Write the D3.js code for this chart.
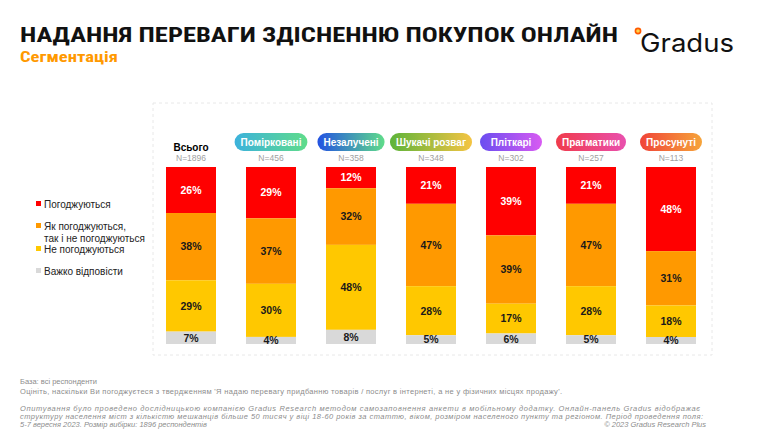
<!DOCTYPE html>
<html>
<head>
<meta charset="utf-8">
<script src="https://cdn.jsdelivr.net/npm/d3@7"></script>
<style>
  body { margin: 0; background: #fff; }
  svg { display: block; font-family: "Liberation Sans", Arial, sans-serif; }
</style>
</head>
<body>
<svg id="chart" width="764" height="429"></svg>
<script>
var GROUPS = ["Всього", "Помірковані", "Незалучені", "Шукачі розваг", "Пліткарі", "Прагматики", "Просунуті"];
var SIZES = [1896, 456, 358, 348, 302, 257, 113];
var AGREE = [26, 29, 12, 21, 39, 21, 48];
var NEUTRAL = [38, 37, 32, 47, 39, 47, 31];
var DISAGREE = [29, 30, 48, 28, 17, 28, 18];
var HARD = [7, 4, 8, 5, 6, 5, 4];

var SERIES = ["Погоджуються", "Як погоджуються,\nтак і не погоджуються", "Не погоджуються", "Важко відповісти"];
var COLORS = ["#ff0000", "#ff9900", "#ffc800", "#d9d9d9"];
var LABEL_COLORS = ["#ffffff", "#1a1a1a", "#1a1a1a", "#1a1a1a"];
// pill gradients per group (first one has no pill)
var PILLS = [null, ["#3cb2dc", "#5fdc8a"], ["#2352e2", "#5fdc8a"], ["#5db43a", "#f5c443"],
    ["#6a4df0", "#d85bf2"], ["#f03b4b", "#e950ae"], ["#f04438", "#f6a43a"]];

var svg = d3.select("#chart");
var defs = svg.append("defs");

var rows = GROUPS.map(function(g, i) {
    return { group: g, n: SIZES[i], 0: AGREE[i], 1: NEUTRAL[i], 2: DISAGREE[i], 3: HARD[i] };
});

var stack = d3.stack().keys([0, 1, 2, 3]).offset(d3.stackOffsetExpand);
var layers = stack(rows);

var x = d3.scaleBand().domain(GROUPS).range([151, 711]).paddingInner(0.375).paddingOuter(0.1875);
var y = d3.scaleLinear().domain([0, 1]).range([167, 344]);

// title
svg.append("text").attr("x", 20).attr("y", 42)
    .attr("font-family", "'Liberation Sans Narrow', 'Roboto Condensed', 'Liberation Sans', Arial")
    .attr("font-weight", "bold").attr("font-size", 21).attr("fill", "#111")
    .attr("textLength", 598).attr("lengthAdjust", "spacingAndGlyphs")
    .text("НАДАННЯ ПЕРЕВАГИ ЗДІСНЕННЮ ПОКУПОК ОНЛАЙН");
svg.append("text").attr("x", 20).attr("y", 62)
    .attr("font-family", "'Liberation Sans Narrow', 'Roboto Condensed', 'Liberation Sans', Arial")
    .attr("font-weight", "bold").attr("font-size", 15).attr("fill", "#ff9900")
    .attr("textLength", 98).attr("lengthAdjust", "spacingAndGlyphs")
    .text("Сегментація");

// logo
svg.append("circle").attr("cx", 638).attr("cy", 31).attr("r", 2.6)
    .attr("fill", "#ffd24a").attr("stroke", "#ff5a00").attr("stroke-width", 1.6);
svg.append("text").attr("x", 640).attr("y", 52)
    .attr("font-family", "Inter, 'Noto Sans', sans-serif").attr("font-size", 25).attr("fill", "#111")
    .attr("textLength", 94).attr("lengthAdjust", "spacingAndGlyphs")
    .text("Gradus");

// dashed frame
svg.append("rect").attr("x", 153).attr("y", 103).attr("width", 559).attr("height", 252)
    .attr("fill", "none").attr("stroke", "#e8e8e8").attr("stroke-dasharray", "3,3");

// bars
var layer = svg.selectAll("g.layer").data(layers).enter().append("g").attr("class", "layer");
layer.selectAll("rect").data(function(d) { return d; }).enter().append("rect")
    .attr("x", function(d) { return x(d.data.group); })
    .attr("width", x.bandwidth())
    .attr("y", function(d) { return y(d[0]); })
    .attr("height", function(d) { return y(d[1]) - y(d[0]); })
    .attr("fill", function(d, i, nodes) { return COLORS[d3.select(nodes[i].parentNode).datum().key]; });

layer.selectAll("text").data(function(d) { return d; }).enter().append("text")
    .attr("x", function(d) { return x(d.data.group) + x.bandwidth() / 2; })
    .attr("y", function(d) { return (y(d[0]) + y(d[1])) / 2 + 3.8; })
    .attr("text-anchor", "middle").attr("font-weight", "bold").attr("font-size", 10.5)
    .attr("fill", function(d, i, nodes) { return LABEL_COLORS[d3.select(nodes[i].parentNode).datum().key]; })
    .text(function(d, i, nodes) {
        var k = d3.select(nodes[i].parentNode).datum().key;
        return d.data[k] + "%";
    });

// headers
var head = svg.selectAll("g.head").data(rows).enter().append("g").attr("class", "head")
    .attr("transform", function(d) { return "translate(" + (x(d.group) + x.bandwidth() / 2) + ",0)"; });

head.each(function(d, i) {
    var g = d3.select(this);
    if (!PILLS[i]) {
        g.append("text").attr("y", 151).attr("text-anchor", "middle")
            .attr("font-weight", "bold").attr("font-size", 10).attr("fill", "#000")
            .text(d.group);
        return;
    }
    var grad = defs.append("linearGradient").attr("id", "pill" + i);
    grad.append("stop").attr("offset", "0%").attr("stop-color", PILLS[i][0]);
    grad.append("stop").attr("offset", "100%").attr("stop-color", PILLS[i][1]);
    var rect = g.append("rect").attr("y", 133).attr("height", 18).attr("rx", 9)
        .attr("fill", "url(#pill" + i + ")");
    var t = g.append("text").attr("y", 145.5).attr("text-anchor", "middle")
        .attr("font-weight", "bold").attr("font-size", 10).attr("fill", "#fff")
        .text(d.group);
    var w = Math.max(t.node().getComputedTextLength() + 12, 62);
    rect.attr("x", -w / 2).attr("width", w);
});

head.append("text").attr("y", 161).attr("text-anchor", "middle")
    .attr("font-size", 8.5).attr("fill", "#a0a0a0")
    .text(function(d) { return "N=" + d.n; });

// legend
var LEGEND_Y = [204, 226, 249, 271];
var legend = svg.selectAll("g.legend").data(SERIES).enter().append("g").attr("class", "legend")
    .attr("transform", function(d, i) { return "translate(36," + LEGEND_Y[i] + ")"; });
legend.append("rect").attr("x", 0).attr("y", -3).attr("width", 5).attr("height", 5)
    .attr("fill", function(d, i) { return COLORS[i]; });
legend.append("text").attr("x", 8).attr("y", 3.5).attr("font-size", 10).attr("fill", "#222")
    .each(function(d) {
        var t = d3.select(this);
        d.split("\n").forEach(function(line, j) {
            t.append("tspan").attr("x", 8).attr("dy", j ? 12 : 0).text(line);
        });
    });

// footer
var FOOT = [
    { t: "База: всі респонденти", y: 384, it: false },
    { t: "Оцініть, наскільки Ви погоджуєтеся з твердженням 'Я надаю перевагу придбанню товарів / послуг в інтернеті, а не у фізичних місцях продажу'.", y: 394, it: false, w: 542 },
    { t: "Опитування було проведено дослідницькою компанією Gradus Research методом самозаповнення анкети в мобільному додатку. Онлайн-панель Gradus відображає", y: 411, it: true, w: 680 },
    { t: "структуру населення міст з кількістю мешканців більше 50 тисяч у віці 18-60 років за статтю, віком, розміром населеного пункту та регіоном. Період проведення поля:", y: 419, it: true, w: 683 },
    { t: "5-7 вересня 2023. Розмір вибірки: 1896 респондентів", y: 427, it: true }
];
svg.selectAll("text.foot").data(FOOT).enter().append("text").attr("class", "foot")
    .attr("x", 20).attr("y", function(d) { return d.y; })
    .attr("font-size", 7.5).attr("fill", "#8c8c8c")
    .attr("font-style", function(d) { return d.it ? "italic" : "normal"; })
    .attr("textLength", function(d) { return d.w || null; })
    .attr("lengthAdjust", "spacing")
    .text(function(d) { return d.t; });
svg.append("text").attr("x", 706).attr("y", 427).attr("text-anchor", "end")
    .attr("font-size", 7.5).attr("font-style", "italic").attr("fill", "#8c8c8c")
    .text("© 2023 Gradus Research Plus");
</script>
</body>
</html>
